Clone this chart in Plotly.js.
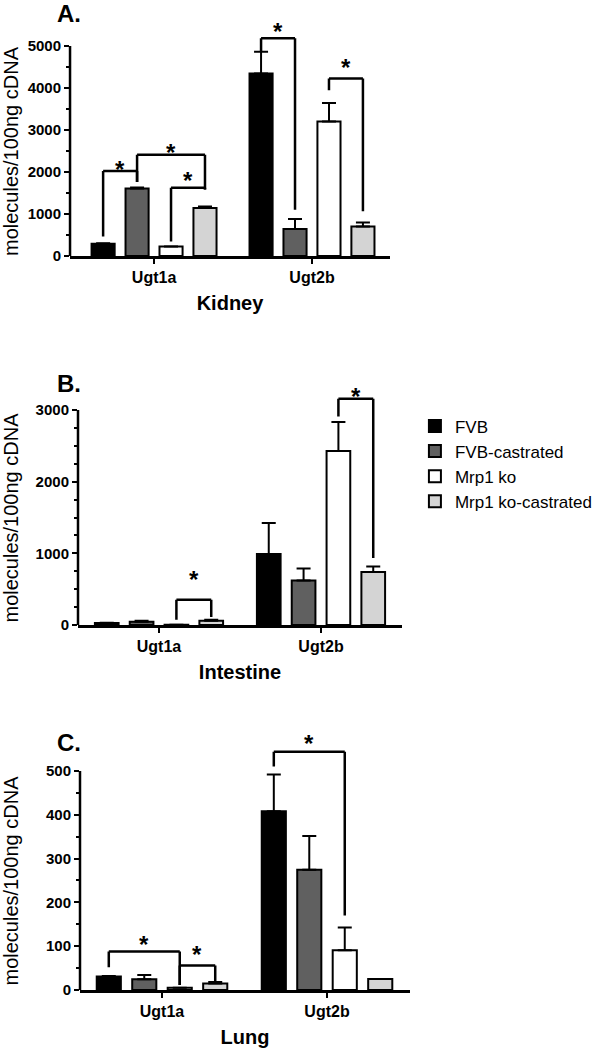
<!DOCTYPE html>
<html>
<head>
<meta charset="utf-8">
<script src="https://cdn.plot.ly/plotly-3.0.1.min.js"></script>
<style>html,body{margin:0;padding:0;background:#fff;}</style>
</head>
<body>
<div id="chart" style="width:597px;height:1050px;"></div>
<script>
// ---------------- DATA ----------------
const categories = ["Ugt1a", "Ugt2b"];
const seriesNames = ["FVB", "FVB-castrated", "Mrp1 ko", "Mrp1 ko-castrated"];
const panelTitles = ["Kidney", "Intestine", "Lung"];
const panelLetters = ["A.", "B.", "C."];
const yAxisLabel = "molecules/100ng cDNA";

// Kidney (A)
const kidneyMeans = [[290, 4344], [1610, 640], [224, 3200], [1140, 704]];
const kidneyErrs  = [[15, 520], [20, 240], [0, 440], [40, 96]];
// Intestine (B)
const intestineMeans = [[28, 992], [45, 620], [2, 2427], [60, 740]];
const intestineErrs  = [[5, 433], [15, 167], [0, 405], [15, 75]];
// Lung (C)
const lungMeans = [[30.7, 408], [24.5, 274.5], [5, 90.5], [15, 25]];
const lungErrs  = [[1, 84], [10, 77], [0, 52], [3, 0]];

// Y tick values
const kidneyTicks = [0, 1000, 2000, 3000, 4000, 5000];
const kidneyMinor = [500, 1500, 2500, 3500, 4500];
const intestineTicks = [0, 1000, 2000, 3000];
const intestineMinor = [250, 500, 750, 1250, 1500, 1750, 2250, 2500, 2750];
const lungTicks = [0, 100, 200, 300, 400, 500];
const lungMinor = [50, 150, 250, 350, 450];

// Significance brackets: [category index, from bar, to bar, top, left end, right end, star y]
const kidneyBrackets = [
  [0, 0, 1, 2024, 464, 1760, 2224],
  [0, 1, 3, 2408, 1760, 1584, 2624],
  [0, 2, 3, 1624, 344, 1584, 1968],
  [1, 0, 1, 5184, 4864, 1104, 5504],
  [1, 2, 3, 4224, 3944, 1064, 4664]
];
const intestineBrackets = [
  [0, 2, 3, 354, 75, 110, 730],
  [1, 2, 3, 3157, 2910, 936, 3293]
];
const lungBrackets = [
  [0, 0, 2, 88, 52, 11.5, 119],
  [0, 2, 3, 56, 11.5, 20, 96],
  [1, 0, 2, 544, 510, 170, 579]
];

// ---------------- STYLE ----------------
const FONT = "Liberation Sans, Arial, Helvetica, sans-serif";
const colors = ["#000000", "#606060", "#ffffff", "#d4d4d4"];
const BARGAP = 0.14;
const slot = (1 - BARGAP) / 4;
const barX = (cat, i) => cat + (i - 1.5) * slot;

const panels = [
  {means: kidneyMeans, errs: kidneyErrs, ticks: kidneyTicks, minor: kidneyMinor, brackets: kidneyBrackets,
   xdom: [0.1173, 0.6533], ydom: [0.75619, 0.98819], xr: [-0.532, 1.494], yr: [0, 5800], ytop: 5000},
  {means: intestineMeans, errs: intestineErrs, ticks: intestineTicks, minor: intestineMinor, brackets: intestineBrackets,
   xdom: [0.13065, 0.67336], ydom: [0.40476, 0.64362], xr: [-0.5, 1.5], yr: [0, 3500], ytop: 3000},
  {means: lungMeans, errs: lungErrs, ticks: lungTicks, minor: lungMinor, brackets: lungBrackets,
   xdom: [0.1340, 0.6868], ydom: [0.05714, 0.31581], xr: [-0.497, 1.503], yr: [0, 620], ytop: 500}
];

const traces = [];
const shapes = [];
const annotations = [];
const layout = {
  width: 597, height: 1050,
  margin: {l: 0, r: 0, t: 0, b: 0},
  paper_bgcolor: "#fff", plot_bgcolor: "rgba(0,0,0,0)",
  font: {family: FONT, color: "#000"},
  barmode: "group", bargap: BARGAP, bargroupgap: 0.32,
  showlegend: true,
  legend: {x: 0.695, y: 0.611, xanchor: "left", yanchor: "top",
           font: {family: FONT, size: 17, color: "#000"}, tracegroupgap: 0,
           itemwidth: 30, bgcolor: "rgba(0,0,0,0)"},
  shapes: shapes, annotations: annotations
};

panels.forEach((p, k) => {
  const xa = k === 0 ? "x" : "x" + (k + 1);
  const ya = k === 0 ? "y" : "y" + (k + 1);
  const xName = k === 0 ? "xaxis" : "xaxis" + (k + 1);
  const yName = k === 0 ? "yaxis" : "yaxis" + (k + 1);

  seriesNames.forEach((name, i) => {
    traces.push({
      type: "bar", name: name, x: categories, y: p.means[i],
      xaxis: xa, yaxis: ya, legendgroup: name, showlegend: k === 1,
      marker: {color: colors[i], line: {color: "#000", width: 2}},
      error_y: {type: "data", symmetric: false, array: p.errs[i],
                arrayminus: p.errs[i].map(() => 0), color: "#000", thickness: 2, width: 7},
      cliponaxis: false
    });
  });

  layout[xName] = {
    domain: p.xdom, anchor: ya, type: "category", range: p.xr,
    showline: true, linecolor: "#000", linewidth: 2.5, showgrid: false, zeroline: false,
    ticks: "outside", ticklen: 5, tickwidth: 2, tickcolor: "#000",
    tickfont: {family: FONT, size: 16, color: "#000", weight: "bold"},
    title: {text: panelTitles[k], font: {family: FONT, size: 20, color: "#000", weight: "bold"}, standoff: 12},
    fixedrange: true
  };
  layout[yName] = {
    domain: p.ydom, anchor: xa, range: p.yr,
    showline: false, showgrid: false, zeroline: false,
    tickvals: p.ticks, ticks: "outside", ticklen: 5, tickwidth: 2, tickcolor: "#000",
    tickfont: {family: FONT, size: 15, color: "#000", weight: "bold"},
    minor: {tickvals: p.minor, ticks: "outside", ticklen: 3, tickwidth: 2, tickcolor: "#000", showgrid: false},
    fixedrange: true
  };

  // y axis title, centred on the drawn axis line (0 .. top tick)
  annotations.push({xref: "paper", yref: ya, x: 11 / 597, y: p.ytop / 2, xanchor: "center", yanchor: "middle",
    text: yAxisLabel, textangle: -90, showarrow: false, font: {family: FONT, size: 20, color: "#000"}});

  // y axis line up to top tick
  shapes.push({type: "line", xref: xa + " domain", yref: ya, x0: 0, x1: 0, y0: 0, y1: p.ytop,
               line: {color: "#000", width: 2.5}, layer: "above"});

  // brackets
  p.brackets.forEach(b => {
    const [cat, i0, i1, top, yl, yr, ys] = b;
    const xl = barX(cat, i0), xr = barX(cat, i1);
    const ln = {color: "#000", width: 2.5};
    shapes.push({type: "line", xref: xa, yref: ya, x0: xl, x1: xr, y0: top, y1: top, line: ln});
    shapes.push({type: "line", xref: xa, yref: ya, x0: xl, x1: xl, y0: top, y1: yl, line: ln});
    shapes.push({type: "line", xref: xa, yref: ya, x0: xr, x1: xr, y0: top, y1: yr, line: ln});
    annotations.push({xref: xa, yref: ya, x: (xl + xr) / 2, y: ys, text: "*", showarrow: false,
      yshift: -7, font: {family: FONT, size: 24, color: "#000", weight: "bold"}});
  });

  // panel letter
  annotations.push({xref: "paper", yref: "paper", x: 55 / 597, y: [1 - 13 / 1050, 1 - 384 / 1050, 1 - 742 / 1050][k],
    xanchor: "left", yanchor: "middle", text: "<b>" + panelLetters[k] + "</b>", showarrow: false,
    font: {family: FONT, size: 24, color: "#000"}});
});

Plotly.newPlot("chart", traces, layout, {staticPlot: true, displayModeBar: false});
</script>
</body>
</html>
